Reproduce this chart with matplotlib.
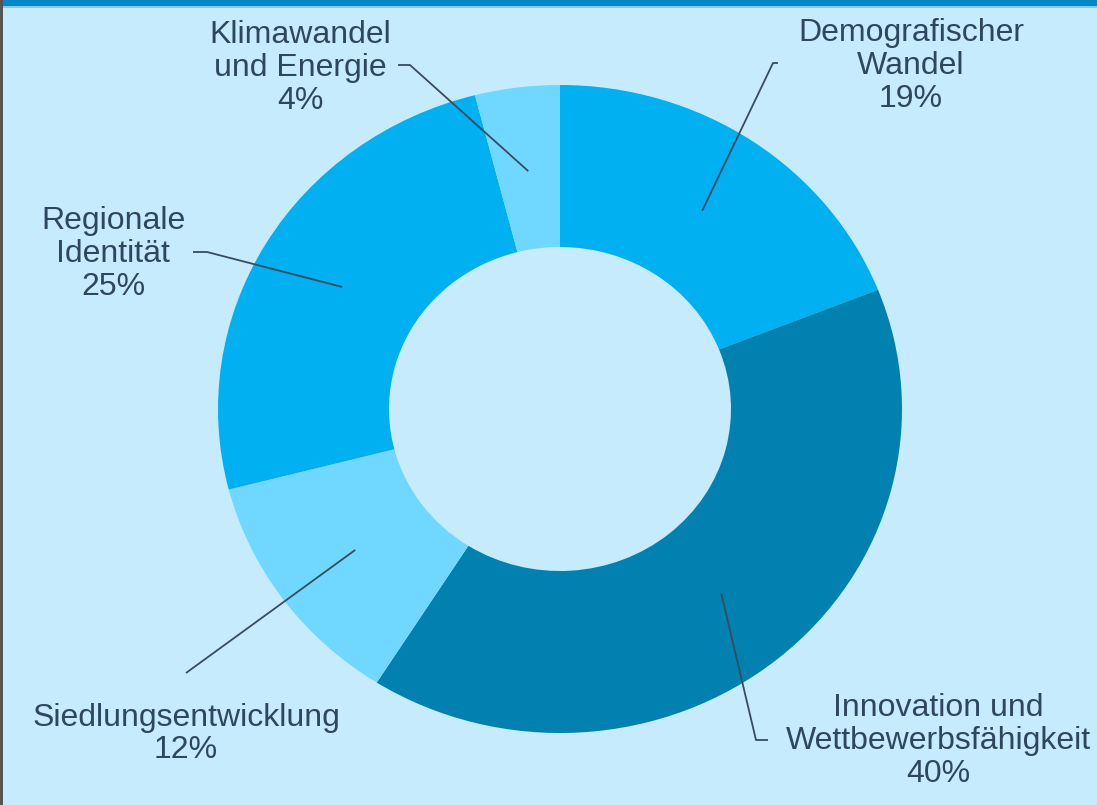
import numpy as np
import matplotlib.pyplot as plt
from matplotlib.patches import Rectangle

plt.rcParams['font.family'] = ['Liberation Sans', 'DejaVu Sans']

# data
labels = ["Demografischer\nWandel", "Innovation und\nWettbewerbsfähigkeit",
          "Siedlungsentwicklung", "Regionale\nIdentität", "Klimawandel\nund Energie"]
shares = [19, 40, 12, 25, 4]
colors = ["#00B0F0", "#0081B0", "#70D8FF", "#00B0F0", "#70D8FF"]

# layout (pixel coords, y from top)
W, H = 1097, 805
cx, cy, R = 560, 409, 342
k = 342 / 324  # the ring is slightly squashed vertically in the original
text_pos = [(911, 66), (938, 741), (186, 734), (113, 254), (300, 68)]
elbows = [((773, 63), (778, 63)), ((756, 740), (768, 740)), ((186, 673), None),
          ((207, 252), (193, 252)), ((410, 65), (398, 65))]

bg = "#C6EBFD"
txt = "#2F4660"


def py(y):
    # pixel y (from top) -> data y
    return (H - y) * k


fig = plt.figure(figsize=(W / 100, H / 100), dpi=100, facecolor=bg)
ax = fig.add_axes([0, 0, 1, 1])
ax.axis("off")

ax.pie(shares, colors=colors, startangle=90, counterclock=False,
       center=(cx, py(cy)), radius=R,
       wedgeprops=dict(width=R * 0.5, edgecolor="none"))
ax.set_aspect("auto")
ax.set_xlim(0, W)
ax.set_ylim(0, H * k)

# leader lines + labels
cum = np.cumsum([0] + shares[:-1])
for i, (lab, s) in enumerate(zip(labels, shares)):
    mid = np.deg2rad(90 - (cum[i] + s / 2) / 100 * 360)
    x0 = cx + 0.74 * R * np.cos(mid)
    y0 = py(cy) + 0.74 * R * np.sin(mid)
    e1, e2 = elbows[i]
    xs = [x0, e1[0]]
    ys = [y0, py(e1[1])]
    if e2 is not None:
        xs.append(e2[0])
        ys.append(py(e2[1]))
    ax.plot(xs, ys, color="#3A4A60", lw=1.3, solid_capstyle="butt")
    tx, ty = text_pos[i]
    ax.text(tx, py(ty), lab + "\n" + str(s) + "%", ha="center", va="center",
            fontsize=23, color=txt, linespacing=1.13)

# frame: top bar and left edge
fig.add_artist(Rectangle((0, 1 - 6 / H), 1, 6 / H, transform=fig.transFigure,
                         facecolor="#0088C8", edgecolor="none"))
fig.add_artist(Rectangle((0, 1 - 8 / H), 1, 2 / H, transform=fig.transFigure,
                         facecolor="#7FCBEF", edgecolor="none"))
fig.add_artist(Rectangle((0, 0), 3 / W, 1, transform=fig.transFigure,
                         facecolor="#555555", edgecolor="none"))

fig.savefig("out.png", dpi=100, facecolor=bg)
